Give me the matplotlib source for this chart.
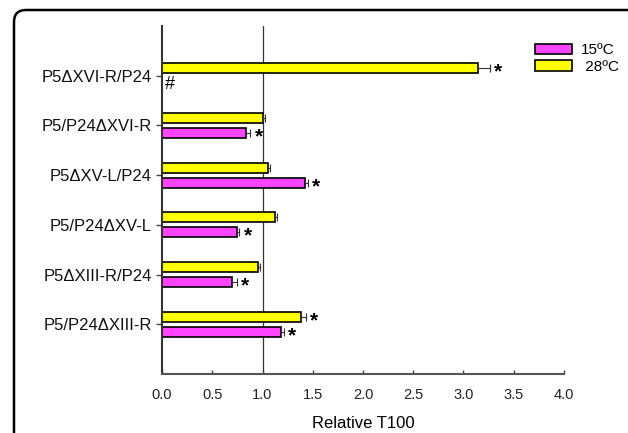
import matplotlib.pyplot as plt
from matplotlib.patches import FancyBboxPatch
import numpy as np

plt.rcParams['font.family'] = ['Liberation Sans', 'DejaVu Sans']

# categories listed bottom to top
labels = ['P5/P24\u0394XIII-R', 'P5\u0394XIII-R/P24', 'P5/P24\u0394XV-L',
          'P5\u0394XV-L/P24', 'P5/P24\u0394XVI-R', 'P5\u0394XVI-R/P24']
t15 = [1.18, 0.70, 0.75, 1.42, 0.84, np.nan]
t15_err = [0.03, 0.05, 0.02, 0.03, 0.04, np.nan]
t28 = [1.38, 0.96, 1.12, 1.05, 1.00, 3.14]
t28_err = [0.05, 0.02, 0.02, 0.02, 0.02, 0.12]
star15 = [True, True, True, True, True, False]
star28 = [True, False, False, False, False, True]

c15 = '#ff44ff'
c28 = '#ffff00'

fig = plt.figure(figsize=(6.28, 4.33), dpi=100)
ax = fig.add_axes([0.258, 0.136, 0.64, 0.804])

y = np.arange(len(labels))
h = 0.2
off = 0.15

ax.barh(y - off, t15, height=h, color=c15, edgecolor='black', linewidth=1.2, label='15\u00baC')
ax.barh(y + off, t28, height=h, color=c28, edgecolor='black', linewidth=1.2, label=' 28\u00baC')

for i in range(len(labels)):
    if not np.isnan(t15[i]):
        ax.errorbar(t15[i], y[i] - off, xerr=[[0], [t15_err[i]]], fmt='none',
                    ecolor='#333333', elinewidth=0.8, capsize=3.2, capthick=0.8)
        if star15[i]:
            ax.text(t15[i] + t15_err[i] + 0.04, y[i] - off - 0.08, '*', fontsize=15,
                    fontweight='bold', va='center', ha='left')
    ax.errorbar(t28[i], y[i] + off, xerr=[[0], [t28_err[i]]], fmt='none',
                ecolor='#333333', elinewidth=0.8, capsize=3.2, capthick=0.8)
    if star28[i]:
        ax.text(t28[i] + t28_err[i] + 0.04, y[i] + off - 0.08, '*', fontsize=15,
                fontweight='bold', va='center', ha='left')

ax.text(0.03, 5 - 0.17, '#', fontsize=13, va='center', ha='left')

ax.axvline(1.0, color='#333333', linewidth=0.9, zorder=0)

ax.set_xlim(0, 4)
ax.set_ylim(-1, 6)
ax.set_yticks(y)
ax.set_yticklabels(labels, fontsize=12, color='#111111')
ax.set_xticks(np.arange(0, 4.01, 0.5))
ax.set_xticklabels(['%.1f' % v for v in np.arange(0, 4.01, 0.5)], fontsize=10.5, color='#222222')
ax.tick_params(axis='x', direction='in', length=3, width=1, color='#444444', pad=10)
ax.tick_params(axis='y', direction='out', length=4, width=1, color='#444444')
ax.set_xlabel('Relative T100', fontsize=12, labelpad=10)

for s in ['top', 'right']:
    ax.spines[s].set_visible(False)
ax.spines['left'].set_linewidth(1.5)
ax.spines['left'].set_color('#333333')
ax.spines['bottom'].set_linewidth(1.5)
ax.spines['bottom'].set_color('#555555')

ax.legend(loc='upper left', bbox_to_anchor=(0.895, 0.99), frameon=False, fontsize=11,
          handlelength=2.4, handleheight=0.7, labelspacing=0.15, handletextpad=0.6)

# panel border with rounded corner, running off the right and bottom edges
frame = FancyBboxPatch((14 / 628, -0.2), 1.2, 1 - 10 / 433 + 0.2,
                       boxstyle='round,pad=0,rounding_size=0.019',
                       mutation_aspect=628 / 433,
                       transform=fig.transFigure, fill=False,
                       edgecolor='black', linewidth=1.8, clip_on=False)
fig.patches.append(frame)

fig.savefig('out.png', dpi=100)
